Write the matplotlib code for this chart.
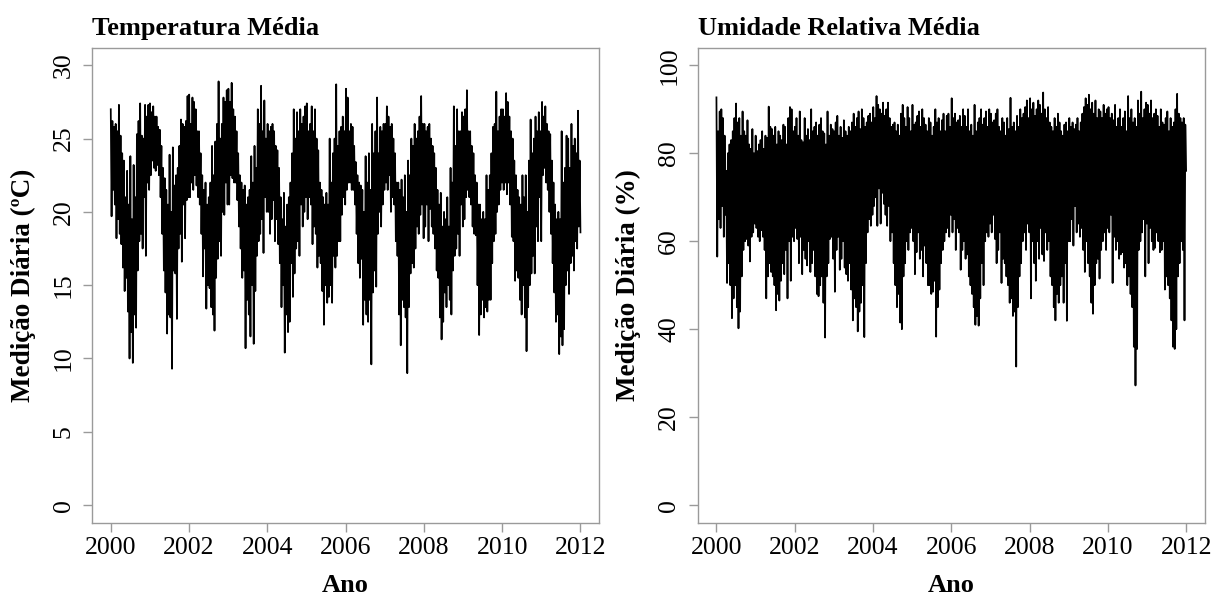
import numpy as np
import matplotlib
matplotlib.use("Agg")
import matplotlib.pyplot as plt

# daily means sampled as 4 readings per month (high, low, high, low), 2000-2011
temperatura = [
    27.0, 19.7, 26.2, 21.5, 25.8, 20.5, 26.0, 18.2, 25.5, 19.5, 27.3, 18.5, 25.2, 17.8, 24.0, 16.2, 23.5, 14.6, 21.0, 15.5, 22.8, 13.2, 20.5, 10.0, 23.8, 11.8, 19.5, 9.7, 23.2, 13.0, 21.0, 12.1, 25.3, 16.0, 26.2, 18.0, 27.4, 18.5, 25.2, 17.5, 25.0, 21.0, 27.3, 17.0, 26.5, 22.0, 27.3, 21.5,
    27.4, 22.5, 26.8, 23.5, 27.2, 23.0, 26.5, 22.8, 26.5, 23.2, 25.8, 22.5, 25.6, 21.0, 24.5, 18.5, 23.0, 16.0, 22.3, 14.5, 21.5, 11.7, 20.5, 13.0, 23.9, 12.8, 20.0, 9.3, 24.4, 16.0, 21.8, 15.8, 22.5, 12.7, 23.0, 17.5, 24.5, 18.5, 26.3, 16.6, 26.0, 20.5, 25.8, 18.2, 26.2, 20.8, 27.9, 21.0,
    28.0, 21.0, 26.0, 22.0, 27.8, 21.5, 27.5, 22.5, 27.0, 21.8, 25.5, 21.0, 25.5, 20.5, 24.0, 18.5, 22.5, 15.6, 21.5, 17.5, 22.0, 13.4, 20.5, 15.0, 21.0, 14.8, 22.0, 13.5, 24.5, 13.0, 22.5, 11.9, 24.8, 15.5, 26.0, 16.8, 28.9, 18.0, 25.0, 17.0, 26.0, 20.0, 27.8, 19.8, 27.5, 22.0, 28.3, 20.5,
    28.4, 20.5, 27.5, 22.5, 28.8, 22.3, 27.0, 22.0, 26.5, 22.0, 25.5, 20.8, 24.0, 19.0, 22.5, 17.5, 22.0, 15.5, 21.5, 16.0, 21.8, 10.7, 20.5, 14.0, 21.0, 13.0, 21.5, 11.5, 23.8, 15.0, 22.0, 11.0, 24.5, 14.6, 23.0, 17.0, 27.0, 18.0, 26.0, 18.5, 28.6, 19.5, 25.5, 17.2, 27.6, 21.0, 25.0, 20.0,
    26.0, 20.0, 25.5, 18.5, 25.8, 19.5, 26.0, 20.8, 25.5, 18.0, 24.5, 19.5, 24.2, 17.8, 23.0, 16.5, 21.0, 13.5, 19.5, 15.0, 21.3, 10.4, 19.0, 13.0, 20.5, 11.8, 21.0, 12.5, 22.0, 16.5, 24.0, 14.2, 27.0, 15.8, 25.0, 17.5, 26.8, 18.0, 25.5, 17.0, 27.0, 20.5, 26.0, 19.0, 26.5, 20.0, 27.2, 21.0,
    27.4, 19.5, 25.5, 21.0, 26.0, 20.5, 27.2, 17.8, 25.5, 19.0, 27.0, 18.5, 25.0, 16.2, 24.2, 17.0, 22.0, 16.5, 21.5, 14.6, 21.0, 12.3, 20.5, 15.0, 21.3, 13.8, 20.5, 14.2, 25.0, 15.0, 22.0, 13.8, 24.0, 17.0, 25.0, 16.2, 28.7, 17.0, 24.5, 18.0, 25.5, 18.0, 25.8, 19.8, 26.5, 21.0, 25.5, 20.5,
    28.4, 21.5, 27.8, 22.0, 25.5, 22.0, 26.0, 21.5, 25.8, 21.5, 24.5, 20.5, 23.4, 18.5, 22.5, 16.5, 22.0, 15.5, 21.8, 16.8, 21.5, 12.3, 20.0, 14.0, 23.8, 13.0, 22.0, 12.5, 24.0, 14.0, 21.5, 9.6, 26.0, 14.5, 24.0, 16.0, 25.5, 14.9, 27.8, 18.5, 24.0, 20.0, 25.8, 19.0, 25.5, 20.5, 26.0, 21.5,
    26.0, 22.0, 27.2, 21.5, 26.5, 22.5, 25.8, 20.0, 26.0, 21.0, 25.0, 20.5, 24.0, 18.0, 22.0, 17.0, 22.0, 13.0, 21.5, 10.9, 22.2, 14.0, 21.0, 13.5, 22.5, 12.8, 20.0, 9.0, 23.5, 13.5, 22.5, 15.8, 25.0, 16.5, 24.5, 16.2, 26.0, 17.5, 25.0, 19.0, 25.5, 18.5, 26.5, 19.8, 27.9, 20.5, 26.0, 18.2,
    26.0, 19.0, 25.5, 20.5, 25.8, 18.0, 26.0, 20.2, 25.0, 19.0, 24.5, 18.5, 24.0, 17.5, 23.0, 16.0, 21.5, 15.5, 20.5, 12.8, 21.3, 11.3, 19.0, 12.5, 20.0, 14.5, 19.5, 13.5, 21.0, 15.0, 19.0, 14.0, 23.0, 13.0, 22.0, 16.0, 27.2, 17.0, 24.5, 17.5, 27.0, 18.5, 25.5, 17.0, 25.5, 20.5, 26.8, 19.0,
    26.5, 19.5, 27.0, 21.0, 28.3, 21.5, 25.5, 21.0, 25.5, 20.5, 24.5, 19.0, 24.0, 18.5, 22.5, 18.4, 22.0, 15.0, 20.5, 11.6, 20.5, 13.0, 19.5, 14.0, 20.0, 12.8, 19.5, 13.5, 22.5, 13.2, 21.5, 14.0, 22.5, 14.0, 24.0, 16.5, 25.8, 18.0, 26.0, 18.5, 28.2, 20.0, 25.5, 20.5, 26.5, 21.5, 27.0, 22.0,
    27.0, 21.5, 26.5, 22.0, 28.1, 21.2, 27.5, 22.0, 26.5, 20.5, 25.5, 18.3, 25.0, 18.0, 23.5, 15.3, 22.5, 16.0, 21.5, 15.5, 21.0, 14.0, 20.5, 13.0, 22.5, 15.0, 21.0, 12.8, 22.5, 10.5, 20.0, 13.5, 23.5, 15.0, 26.3, 15.8, 24.0, 17.0, 25.0, 15.8, 26.5, 19.0, 25.5, 18.0, 26.8, 21.0, 25.5, 18.0,
    27.5, 22.5, 26.5, 23.0, 27.2, 22.0, 26.0, 21.5, 25.5, 20.0, 25.3, 18.5, 23.5, 16.5, 22.0, 14.5, 20.5, 12.5, 19.5, 13.0, 20.0, 10.3, 19.5, 11.5, 25.5, 10.9, 22.0, 12.0, 23.0, 15.0, 25.2, 16.0, 25.0, 14.4, 23.0, 16.5, 26.0, 17.0, 24.5, 16.0, 25.0, 18.0, 24.0, 17.5, 26.9, 19.0, 23.5, 18.6,
]

umidade = [
    92.7, 56.5, 85.0, 65.0, 89.5, 63.0, 90.0, 68.0, 88.0, 61.0, 84.0, 66.0, 76.0, 50.5, 80.0, 55.0, 82.0, 50.0, 83.0, 42.5, 85.0, 47.0, 88.0, 50.0, 91.3, 45.0, 87.0, 40.2, 88.0, 44.0, 84.0, 52.0, 89.5, 58.0, 85.0, 60.0, 84.0, 60.5, 87.5, 59.0, 82.0, 55.4, 81.0, 61.0, 85.5, 62.0, 80.0, 64.0,
    84.0, 63.0, 80.5, 61.0, 82.0, 60.0, 83.0, 62.5, 85.0, 61.0, 81.0, 58.0, 84.0, 47.0, 83.5, 52.0, 90.6, 55.0, 86.0, 53.0, 85.5, 52.0, 84.0, 50.0, 86.0, 44.3, 82.0, 48.0, 85.0, 46.5, 84.0, 51.0, 83.0, 55.0, 86.5, 52.5, 86.0, 58.0, 82.0, 47.0, 88.0, 60.0, 90.5, 51.0, 90.0, 61.0, 85.0, 60.0,
    86.0, 63.0, 88.0, 60.5, 84.0, 55.0, 89.5, 61.0, 83.0, 52.5, 82.5, 58.0, 88.0, 56.0, 84.0, 54.5, 85.5, 60.0, 83.0, 53.0, 90.0, 55.0, 85.0, 58.0, 86.0, 52.0, 87.0, 48.0, 84.0, 47.5, 86.5, 50.0, 88.0, 52.0, 85.0, 46.0, 84.5, 38.1, 82.0, 52.0, 89.5, 55.0, 84.0, 60.5, 86.5, 61.0, 85.5, 56.0,
    85.0, 48.5, 87.0, 58.0, 88.5, 61.0, 84.0, 53.5, 86.0, 56.0, 83.5, 60.0, 87.5, 54.0, 85.0, 52.5, 84.0, 51.0, 86.0, 55.0, 85.0, 49.0, 87.0, 42.0, 89.0, 47.0, 86.0, 45.0, 88.0, 39.5, 89.5, 44.0, 85.5, 46.0, 90.0, 50.0, 88.0, 38.2, 86.0, 55.0, 87.0, 62.0, 88.5, 65.0, 89.0, 63.5, 87.0, 66.0,
    90.5, 68.0, 88.0, 70.0, 93.0, 63.5, 91.0, 72.0, 90.0, 64.0, 89.0, 71.0, 91.5, 68.5, 88.5, 66.0, 90.0, 63.5, 91.5, 68.0, 88.0, 60.0, 86.0, 62.0, 86.5, 55.0, 87.0, 50.0, 85.0, 45.0, 86.5, 48.0, 84.0, 41.5, 89.0, 40.0, 91.0, 52.0, 88.0, 55.0, 86.0, 60.0, 90.5, 58.0, 88.0, 62.0, 85.0, 63.0,
    91.0, 60.0, 86.5, 52.5, 87.0, 57.5, 88.5, 62.0, 89.5, 56.0, 86.0, 58.0, 90.0, 52.0, 88.0, 59.0, 86.5, 55.0, 85.0, 50.0, 88.0, 50.0, 87.0, 48.0, 84.0, 48.5, 86.0, 51.0, 90.0, 38.3, 87.0, 45.0, 88.0, 49.0, 85.0, 55.0, 87.5, 58.0, 89.0, 60.0, 85.0, 62.0, 88.5, 63.0, 89.0, 61.0, 86.0, 66.0,
    92.5, 62.0, 88.0, 65.0, 89.0, 58.0, 87.0, 63.0, 87.5, 62.0, 88.5, 53.5, 86.0, 58.0, 90.0, 60.0, 88.5, 56.0, 86.0, 57.0, 90.0, 52.0, 85.0, 50.0, 86.5, 48.0, 84.0, 45.0, 91.0, 41.0, 85.0, 43.0, 87.0, 40.8, 88.0, 47.0, 90.0, 55.0, 86.5, 50.0, 88.0, 60.0, 89.5, 62.0, 86.0, 61.0, 90.0, 64.0,
    89.0, 62.0, 87.0, 66.0, 87.5, 60.5, 89.0, 55.0, 90.0, 58.0, 86.0, 62.0, 85.0, 50.5, 88.0, 56.0, 87.0, 55.0, 84.0, 52.0, 88.0, 50.0, 85.5, 46.0, 92.6, 47.0, 86.0, 43.0, 87.0, 44.0, 85.0, 31.5, 88.5, 45.0, 86.0, 52.0, 90.0, 55.0, 88.0, 60.0, 89.0, 62.0, 90.5, 58.0, 92.0, 64.0, 88.0, 62.0,
    92.5, 47.0, 90.0, 60.0, 91.5, 55.0, 88.5, 51.0, 90.0, 60.0, 92.0, 56.0, 91.0, 63.0, 89.0, 57.0, 93.8, 55.5, 90.0, 62.0, 88.0, 58.0, 90.5, 60.0, 87.0, 52.0, 86.0, 50.0, 85.0, 45.0, 88.0, 42.0, 86.0, 48.0, 89.0, 46.0, 87.0, 50.0, 85.0, 52.0, 84.0, 46.0, 86.5, 55.0, 87.0, 41.9, 85.0, 60.0,
    88.0, 60.0, 86.0, 65.0, 87.0, 59.0, 85.5, 68.0, 86.5, 62.0, 88.0, 64.0, 85.0, 61.0, 87.0, 63.0, 89.0, 58.0, 90.5, 53.0, 92.5, 60.0, 91.0, 55.0, 93.3, 52.0, 90.0, 46.0, 91.5, 43.5, 89.0, 50.0, 92.0, 55.0, 88.0, 56.0, 90.0, 51.5, 89.5, 58.0, 88.0, 60.0, 91.0, 62.0, 89.0, 58.0, 90.0, 63.0,
    90.5, 62.0, 88.0, 66.0, 89.0, 50.5, 87.5, 61.0, 91.0, 58.0, 86.0, 60.0, 88.0, 56.0, 90.0, 57.0, 86.0, 57.5, 88.0, 54.0, 89.5, 55.0, 85.0, 50.0, 93.0, 52.0, 88.0, 48.0, 90.0, 45.0, 87.0, 36.0, 88.0, 27.2, 86.0, 35.5, 92.0, 58.0, 89.0, 60.0, 94.0, 62.0, 88.0, 65.0, 90.0, 52.0, 91.5, 64.0,
    91.0, 55.0, 89.0, 63.0, 92.0, 60.0, 88.0, 58.0, 89.0, 58.5, 90.0, 62.0, 88.5, 60.0, 86.0, 57.5, 90.0, 58.0, 87.0, 60.0, 86.5, 49.0, 88.0, 52.0, 89.5, 50.0, 85.0, 47.0, 88.0, 42.0, 86.0, 36.0, 87.0, 35.5, 90.0, 40.0, 93.5, 52.0, 89.0, 55.0, 88.0, 60.0, 87.0, 58.0, 88.0, 42.0, 86.5, 76.0,
]

anos = [2000, 2002, 2004, 2006, 2008, 2010, 2012]
ticks_temp = [0, 5, 10, 15, 20, 25, 30]
ticks_umid = [0, 20, 40, 60, 80, 100]

plt.rcParams['font.family'] = ['Liberation Serif', 'DejaVu Serif']
cinza = '#9a9a9a'

fig = plt.figure(figsize=(12.15, 5.99), dpi=100)

paineis = [
    (0.0757, temperatura, "Temperatura Média", "Medição Diária (ºC)", ticks_temp, (-1.2, 31.2)),
    (0.5742, umidade, "Umidade Relativa Média", "Medição Diária (%)", ticks_umid, (-4, 104)),
]

for left, serie, titulo, ylab, yticks, ylim in paineis:
    ax = fig.add_axes([left, 0.1274, 0.4175, 0.793])
    t = np.linspace(2000, 2012, len(serie))
    ax.plot(t, serie, color='black', lw=1.25)
    ax.set_xlim(2000 - 0.48, 2012 + 0.48)
    ax.set_ylim(*ylim)
    ax.set_xticks(anos)
    ax.set_yticks(yticks)
    ax.set_yticklabels([str(v) for v in yticks], rotation=90, va='center')
    for s in ax.spines.values():
        s.set_color(cinza)
        s.set_linewidth(1.0)
    ax.tick_params(axis='both', colors=cinza, labelcolor='black', length=6.5,
                   width=1.0, labelsize=18.5)
    ax.tick_params(axis='x', pad=4)
    ax.tick_params(axis='y', pad=6)
    ax.set_title(titulo, loc='left', fontsize=19, fontweight='bold', pad=9)
    ax.set_xlabel("Ano", fontsize=19, fontweight='bold', va='center')
    ax.xaxis.set_label_coords(0.5, -0.133)
    ax.set_ylabel(ylab, fontsize=19.5, fontweight='bold', va='center')
    ax.yaxis.set_label_coords(-0.136, 0.5)

fig.savefig("out.png", dpi=100)
